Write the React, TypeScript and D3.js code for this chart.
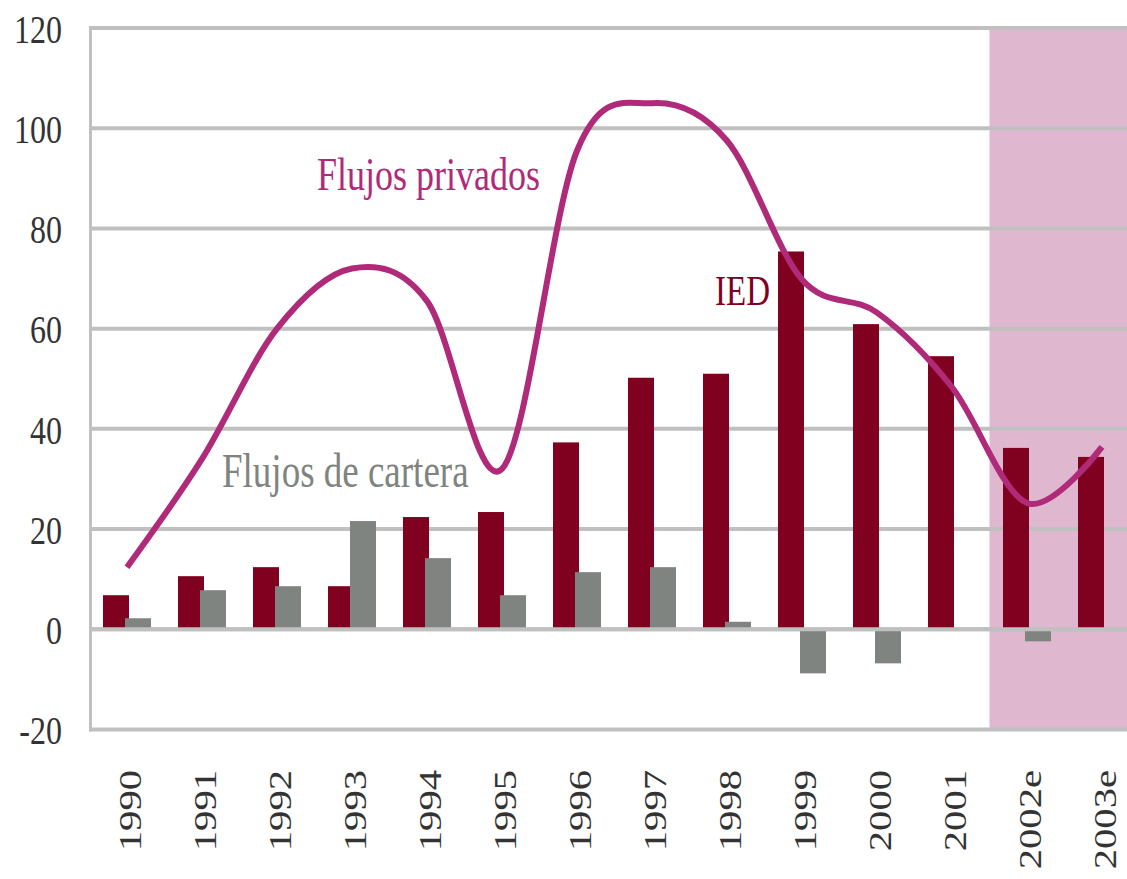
import React from "react";
import * as d3 from "d3";

const categories = ["1990", "1991", "1992", "1993", "1994", "1995", "1996", "1997", "1998", "1999", "2000", "2001", "2002e", "2003e"];
const iedValues = [6.8, 10.6, 12.4, 8.6, 22.4, 23.4, 37.3, 50.2, 51.0, 75.4, 60.9, 54.5, 36.2, 34.4];
const carteraValues = [2.2, 7.8, 8.6, 21.6, 14.2, 6.8, 11.4, 12.4, 1.5, -8.8, -6.8, 0, -2.4, 0];
const privadosValues = [12.4, 34, 60, 72, 65.5, 32, 95.5, 105, 97.5, 69.8, 63.2, 48.3, 25.2, 36.4];
const yTicks = [-20, 0, 20, 40, 60, 80, 100, 120];
const shadedCategories = ["2002e", "2003e"];

const W = 1127;
const H = 879;
const FONT = '"Liberation Serif", "Times New Roman", serif';
const C_IED = "#80001f";
const C_CART = "#808480";
const C_LINE = "#b02a7a";
const C_GRID = "#c0c0c0";
const C_SHADE = "#dfb8cf";
const C_TEXT = "#333333";
const SY = 1.28;

export default function App() {
  const x = d3.scaleBand<string>().domain(categories).range([89.5, 1139.5]).paddingInner(0.36).paddingOuter(0.18);
  const y = d3.scaleLinear().domain([-20, 120]).range([729.5, 28]);
  const step = x.step();
  const bw = x.bandwidth();
  const barW = (bw * 26) / 48;
  const center = (c: string) => (x(c) as number) + bw / 2;

  const line = d3
    .line<number>()
    .x((_, i) => center(categories[i]))
    .y((d) => y(d))
    .curve(d3.curveCardinal.tension(0));

  const shadeX0 = (x(shadedCategories[0]) as number) - (step - bw) / 2;
  const xLeft = 89.5;

  return (
    <div style={{ position: "absolute", left: 0, top: 0 }}>
      <svg width={W} height={H} style={{ display: "block", background: "#fff" }}>
        <rect x={shadeX0} y={y(120)} width={W - shadeX0} height={y(-20) - y(120)} fill={C_SHADE} />
        {yTicks.map((t) => (
          <line key={"g" + t} x1={xLeft} x2={W} y1={y(t)} y2={y(t)} stroke={C_GRID} strokeWidth={4} />
        ))}
        {categories.map((c, i) => {
          const x0 = x(c) as number;
          const v1 = iedValues[i];
          const v2 = carteraValues[i];
          return (
            <g key={"b" + c}>
              <rect x={x0} y={Math.min(y(v1), y(0))} width={barW} height={Math.abs(y(v1) - y(0))} fill={C_IED} />
              <rect x={x0 + bw - barW} y={Math.min(y(v2), y(0))} width={barW} height={Math.abs(y(v2) - y(0))} fill={C_CART} />
            </g>
          );
        })}
        <line x1={xLeft} x2={W} y1={y(0)} y2={y(0)} stroke={C_GRID} strokeWidth={4} />
        <line x1={xLeft + 1} x2={xLeft + 1} y1={y(120) - 2} y2={y(-20) + 2} stroke={C_GRID} strokeWidth={3} />
        <path d={line(privadosValues) || ""} fill="none" stroke={C_LINE} strokeWidth={6} strokeLinejoin="round" />

        {yTicks.map((t) => (
          <text
            key={"yt" + t}
            transform={`translate(62,${y(t)}) scale(1,${SY})`}
            dy="0.36em"
            textAnchor="end"
            fontFamily={FONT}
            fontSize={32}
            fill={C_TEXT}
          >
            {t}
          </text>
        ))}
        {categories.map((c) => (
          <text
            key={"xt" + c}
            transform={`translate(${center(c) + 14},770) scale(1,1.27) rotate(-90)`}
            textAnchor="end"
            fontFamily={FONT}
            fontSize={32}
            fill={C_TEXT}
          >
            {c}
          </text>
        ))}

        <text transform={`translate(317,190) scale(1,1.3)`} fontFamily={FONT} fontSize={36} fill={C_LINE}>
          Flujos privados
        </text>
        <text transform={`translate(222,487) scale(1,1.3)`} fontFamily={FONT} fontSize={37} fill={C_CART}>
          Flujos de cartera
        </text>
        <text transform={`translate(715,305) scale(1,1.3)`} fontFamily={FONT} fontSize={33} fill={C_IED}>
          IED
        </text>
      </svg>
    </div>
  );
}
